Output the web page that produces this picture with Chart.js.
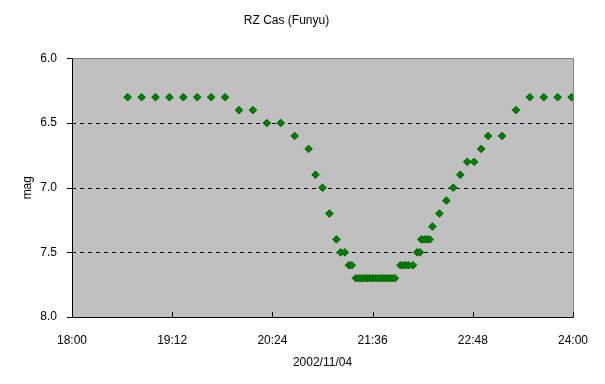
<!DOCTYPE html>
<html>
<head>
<meta charset="utf-8">
<script src="https://cdn.jsdelivr.net/npm/chart.js@4"></script>
<style>
html,body{margin:0;padding:0;background:#fff;}
#wrap{width:605px;height:384px;}
</style>
</head>
<body>
<div id="wrap"><canvas id="c" width="605" height="384"></canvas></div>
<script>
const chartTitle = "RZ Cas (Funyu)";
const xTitle = "2002/11/04";
const yTitle = "mag";
const times = ["18:40","18:50","19:00","19:10","19:20","19:30","19:40","19:50","20:00","20:10",
  "20:20","20:30","20:40","20:50","20:55","21:00","21:05","21:10","21:13","21:16",
  "21:19","21:21","21:24","21:26","21:28","21:30","21:32","21:34","21:36","21:38",
  "21:40","21:42","21:44","21:46","21:48","21:50","21:52","21:56","21:58","22:00",
  "22:02","22:05","22:08","22:10","22:11","22:13","22:15","22:17","22:19","22:24",
  "22:29","22:34","22:39","22:44","22:49","22:54","22:59","23:09","23:19","23:29",
  "23:39","23:49","23:59"];
const mags = [6.3,6.3,6.3,6.3,6.3,6.3,6.3,6.3,6.4,6.4,
  6.5,6.5,6.6,6.7,6.9,7.0,7.2,7.4,7.5,7.5,
  7.6,7.6,7.7,7.7,7.7,7.7,7.7,7.7,7.7,7.7,
  7.7,7.7,7.7,7.7,7.7,7.7,7.7,7.6,7.6,7.6,
  7.6,7.6,7.5,7.5,7.4,7.4,7.4,7.4,7.3,7.2,
  7.1,7.0,6.9,6.8,6.8,6.7,6.6,6.6,6.4,6.3,
  6.3,6.3,6.3];
const xTickLabels = ["18:00","19:12","20:24","21:36","22:48","24:00"];
const yTicks = [6.0,6.5,7.0,7.5,8.0];

function toMin(s){const p=s.split(":");return (+p[0]-18)*60+(+p[1]);}
const points = times.map((t,i)=>({x:toMin(t), y:mags[i]}));

const FONT = "'Liberation Sans', Arial, sans-serif";

const frame = {
  id:'frame',
  beforeDatasetsDraw(chart){
    const {ctx, chartArea:a, scales:{x,y}} = chart;
    ctx.save();
    ctx.fillStyle = '#C0C0C0';
    ctx.fillRect(a.left, a.top, a.right-a.left, a.bottom-a.top);
    ctx.strokeStyle = '#000';
    ctx.lineWidth = 1;
    ctx.setLineDash([4,4]);
    yTicks.slice(1,-1).forEach(v=>{
      const py = Math.round(y.getPixelForValue(v))+0.5;
      ctx.beginPath(); ctx.moveTo(a.left, py); ctx.lineTo(a.right, py); ctx.stroke();
    });
    ctx.setLineDash([]);
    ctx.strokeStyle = '#808080';
    ctx.beginPath();
    ctx.moveTo(Math.round(a.left)+0.5, Math.round(a.top)+0.5);
    ctx.lineTo(Math.round(a.right)+0.5, Math.round(a.top)+0.5);
    ctx.lineTo(Math.round(a.right)+0.5, Math.round(a.bottom)+0.5);
    ctx.stroke();
    ctx.strokeStyle = '#000';
    ctx.beginPath();
    ctx.moveTo(Math.round(a.left)+0.5, Math.round(a.top)+0.5);
    ctx.lineTo(Math.round(a.left)+0.5, Math.round(a.bottom)+0.5);
    ctx.lineTo(Math.round(a.right)+0.5, Math.round(a.bottom)+0.5);
    ctx.stroke();
    yTicks.forEach(v=>{
      const py = Math.round(y.getPixelForValue(v))+0.5;
      ctx.beginPath(); ctx.moveTo(a.left-5, py); ctx.lineTo(a.left, py); ctx.stroke();
    });
    for(let m=72; m<=360; m+=72){
      const px = Math.round(x.getPixelForValue(m))+0.5;
      ctx.beginPath(); ctx.moveTo(px, a.bottom); ctx.lineTo(px, a.bottom-5); ctx.stroke();
    }
    ctx.restore();
  }
};

new Chart(document.getElementById('c'), {
  type:'scatter',
  data:{datasets:[{
    data:points,
    pointStyle:'rectRot',
    pointRadius:3.8,
    pointHoverRadius:3.8,
    backgroundColor:'#008000',
    borderColor:'#006400',
    borderWidth:1
  }]},
  options:{
    responsive:false,
    animation:false,
    events:[],
    layout:{padding:{left:0,right:32,top:0,bottom:0}},
    plugins:{
      legend:{display:false},
      tooltip:{enabled:false},
      title:{display:true, text:chartTitle, color:'#000',
        font:{family:FONT, size:12, weight:'normal'},
        padding:{top:13, bottom:31}}
    },
    scales:{
      x:{type:'linear', min:0, max:360,
        afterFit(s){ s.height = 67; },
        grid:{display:false, drawTicks:false},
        border:{display:false},
        ticks:{stepSize:72, color:'#000', font:{family:FONT,size:12}, padding:16, maxRotation:0,
          callback:(v)=>{const i=Math.round(v/72); return xTickLabels[i];}},
        title:{display:true, text:xTitle, color:'#000', font:{family:FONT,size:12}, padding:{top:4,bottom:14}}
      },
      y:{type:'linear', reverse:true, min:6, max:8,
        afterFit(s){ s.width = 72; },
        grid:{display:false, drawTicks:false},
        border:{display:false},
        ticks:{stepSize:0.5, color:'#000', font:{family:FONT,size:12}, padding:15,
          callback:(v)=>Number(v).toFixed(1)},
        title:{display:true, text:yTitle, color:'#000', font:{family:FONT,size:12}, padding:{top:20,bottom:6}}
      }
    }
  },
  plugins:[frame]
});
</script>
</body>
</html>
